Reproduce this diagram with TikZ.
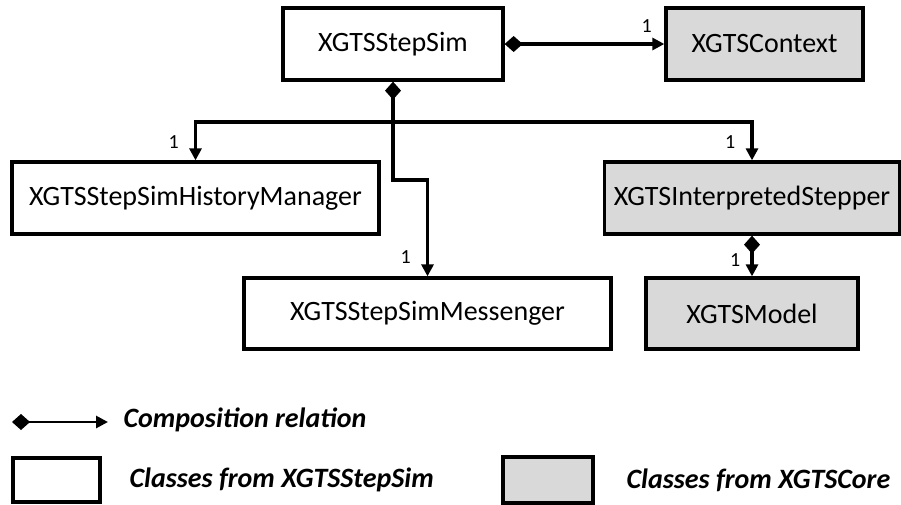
\documentclass[tikz,border=0pt]{standalone}
\usepackage{fontspec}
\setmainfont{Carlito}
\usetikzlibrary{arrows.meta, positioning}
\definecolor{cgrey}{HTML}{D9D9D9}
\tikzset{
  every picture/.style={x=1pt, y=-1pt, line width=3.3pt},
  cls/.style={draw, fill=#1, align=center, inner sep=0pt, minimum height=72pt, font=\fontsize{28}{32}\selectfont},
  cls/.default=white,
  comp/.style={{Diamond[length=18pt,width=16pt]}-{Triangle[length=12pt,width=12pt]}},
  plain/.style={-{Triangle[length=12pt,width=12pt]}},
  mult/.style={font=\fontsize{20}{22}\selectfont, inner sep=0pt},
  legend/.style={font=\fontsize{28}{32}\selectfont\bfseries\itshape, anchor=west, inner sep=0pt},
}

\begin{document}
\begin{tikzpicture}
  \useasboundingbox (0,0) rectangle (901,504);
  % classes
  \node[cls, minimum width=220pt] (stepsim) at (393,44) {XGTSStepSim};
  \node[cls=cgrey, minimum width=197pt] (context) at (764.5,44) {XGTSContext};
  \node[cls, minimum width=367pt] (history) at (195.5,198) {XGTSStepSimHistoryManager};
  \node[cls=cgrey, minimum width=295pt] (stepper) at (752,198) {XGTSInterpretedStepper};
  \node[cls, minimum width=367pt, minimum height=71pt] (messenger) at (427.5,313.5) {XGTSStepSimMessenger};
  \node[cls=cgrey, minimum width=212pt, minimum height=71pt] (model) at (752,313.5) {XGTSModel};
  % connectors
  \coordinate (split) at (393,122);
  \coordinate (jog) at (393,180);
  \draw[comp] (stepsim.east) -- (context.west) node[mult, pos=0.89, above=10pt] {1};
  \draw[{Diamond[length=18pt,width=16pt]}-] (stepsim.south) -- (split);
  \draw[plain] (split) -| (history.north) node[mult, pos=0.76, left=15pt] {1};
  \draw[plain] (split) -| (stepper.north) node[mult, pos=0.76, left=15pt] {1};
  \draw[plain] (split) -- (jog) -| (messenger.north) node[mult, pos=0.9, left=15pt] {1};
  \draw[comp] (stepper.south) -- (model.north) node[mult, pos=0.6, left=10pt] {1};
  % legend
  \coordinate (lfrom) at (12,422);
  \coordinate (lto) at (108,422);
  \draw[comp, line width=2.8pt] (lfrom) -- (lto);
  \node[legend] (ltext) at (122,420) {Composition relation};
  \node[draw, minimum width=87pt, minimum height=44pt, inner sep=0pt] (lwhite) at (56.5,480) {};
  \node[legend] (lwhitetext) at (128,480) {Classes from XGTSStepSim};
  \node[draw, fill=cgrey, minimum width=90pt, minimum height=46pt, inner sep=0pt] (lgrey) at (548,480) {};
  \node[legend] (lgreytext) at (625,480) {Classes from XGTSCore};
\end{tikzpicture}
\end{document}
